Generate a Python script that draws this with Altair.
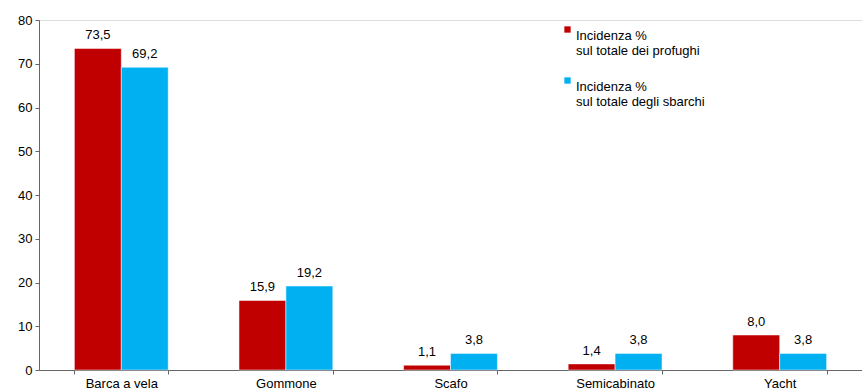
import altair as alt
import pandas as pd

# Boat types and the two incidence series (%)
categories = ["Barca a vela", "Gommone", "Scafo", "Semicabinato", "Yacht"]
profughi = [73.5, 15.9, 1.1, 1.4, 8.0]
sbarchi = [69.2, 19.2, 3.8, 3.8, 3.8]
series = ["Incidenza %|sul totale dei profughi", "Incidenza %|sul totale degli sbarchi"]
colors = ["#C00000", "#00B0F0"]

rows = []
for i, c in enumerate(categories):
    rows.append({"tipo": c, "serie": series[0], "valore": profughi[i]})
    rows.append({"tipo": c, "serie": series[1], "valore": sbarchi[i]})
df = pd.DataFrame(rows)

FONT = "Liberation Sans"
FS = 13

x = alt.X(
    "tipo:N",
    sort=categories,
    title=None,
    scale=alt.Scale(paddingInner=0.43, paddingOuter=0.215),
    axis=alt.Axis(
        labelAngle=0,
        tickBand="extent",
        tickSize=4,
        labelPadding=3,
        domainColor="#666666",
        tickColor="#666666",
        labelFontSize=FS,
        labelColor="#000000",
    ),
)
xoff = alt.XOffset("serie:N", sort=series)
y = alt.Y(
    "valore:Q",
    title=None,
    scale=alt.Scale(domain=[0, 80], nice=False),
    axis=alt.Axis(
        values=list(range(0, 81, 10)),
        grid=False,
        tickSize=4,
        labelPadding=3,
        domainColor="#666666",
        tickColor="#666666",
        labelFontSize=FS,
        labelColor="#000000",
    ),
)

bars = alt.Chart(df).mark_bar(stroke="white", strokeWidth=0.5).encode(
    x=x,
    xOffset=xoff,
    y=y,
    color=alt.Color(
        "serie:N",
        sort=series,
        scale=alt.Scale(domain=series, range=colors),
        legend=alt.Legend(
            title=None,
            orient="none",
            legendX=522,
            legendY=3,
            symbolType="square",
            symbolSize=40,
            symbolStrokeWidth=0,
            labelFontSize=FS,
            labelColor="#000000",
            labelExpr="split(datum.label, '|')",
            labelBaseline="top",
            labelOffset=2,
            rowPadding=16,
            labelLimit=300,
        ),
    ),
)

labels = alt.Chart(df).transform_calculate(
    testo="replace(format(datum.valore, '.1f'), '.', ',')"
).mark_text(baseline="bottom", dy=-6, fontSize=FS, color="#000000", font=FONT).encode(
    x=x,
    xOffset=xoff,
    y=y,
    text="testo:N",
)

chart = (
    alt.layer(bars, labels)
    .properties(
        width=823,
        height=350,
        padding={"left": 39, "top": 20, "right": 0, "bottom": 20},
        autosize=alt.AutoSizeParams(type="none"),
    )
    .configure_view(stroke=None)
    .configure(font=FONT)
    .configure_axis(labelFont=FONT)
    .configure_legend(labelFont=FONT)
)

chart.save("out.html", embed_options={"renderer": "svg", "actions": False})
